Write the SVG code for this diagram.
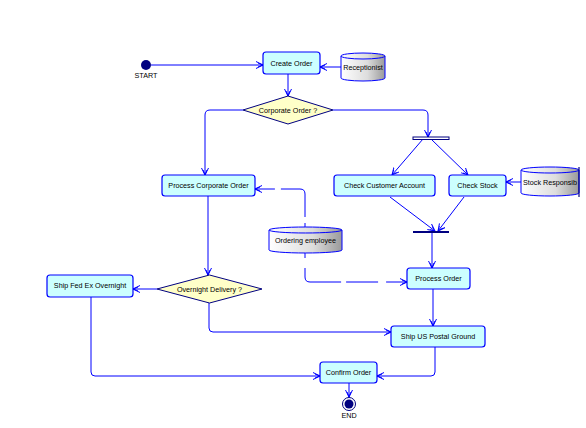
<svg xmlns="http://www.w3.org/2000/svg" width="586" height="428" viewBox="0 0 586 428">
<style>
.box{fill:#ccffff;stroke:#0000ff;stroke-width:1.2}
.dia{fill:#ffffc8;stroke:#000080;stroke-width:1}
.cyl{fill:url(#cg);stroke:#0000ff;stroke-width:1}
.t{font-family:"Liberation Sans",Arial,sans-serif;font-size:7.2px;fill:#000;text-anchor:middle}
.c{fill:none;stroke:#0000ff;stroke-width:1;marker-end:url(#ah)}
</style>
<defs>
<linearGradient id="cg" x1="0" y1="0" x2="1" y2="0">
<stop offset="0" stop-color="#ffffff"/><stop offset="0.6" stop-color="#dddddd"/><stop offset="1" stop-color="#9a9a9a"/>
</linearGradient>
<marker id="ah" markerUnits="userSpaceOnUse" markerWidth="10" markerHeight="10" refX="7" refY="4" orient="auto">
<path d="M0,0.5 L7,4 L0,7.5 M2,2 L7,4 L2,6" fill="none" stroke="#0000ff" stroke-width="1"/>
</marker>
</defs>
<rect width="586" height="428" fill="#fff"/>
<g id="connectors">
<path class="c" d="M151,65 H263"/>
<path class="c" d="M341,67 H320"/>
<path class="c" d="M288,74 V96"/>
<path class="c" d="M243,110 H210 Q205,110 205,115 V175"/>
<path class="c" d="M333,110 H423 Q428,110 428,115 V137"/>
<path class="c" d="M423,139 L392,175"/>
<path class="c" d="M431,139 L468,175"/>
<path class="c" d="M521,182 H506"/>
<path class="c" d="M390,197 L435,231"/>
<path class="c" d="M464,197 L438,231"/>
<path class="c" d="M432,233 V268"/>
<path class="c" d="M433,289 V326"/>
<path class="c" d="M435,347 V372 Q435,376 431,376 H377"/>
<path class="c" d="M91,297 V372 Q91,376 95,376 H320"/>
<path class="c" d="M349,383 V397"/>
<path class="c" d="M208,196 V275"/>
<path class="c" d="M157,289 H133"/>
<path class="c" d="M209,303 V328 Q209,332 213,332 H391"/>
<path class="c" stroke-dasharray="4 6 50 6 40" d="M305,227 V194 Q305,189 300,189 H255"/>
<path class="c" stroke-dasharray="5 10 48 5 32 8 40" d="M305,253 V277 Q305,282 310,282 H407"/>
</g>
<g id="start">
<circle cx="146" cy="65" r="5" fill="#000080"/>
<text class="t" x="146" y="78">START</text>
</g>
<g id="create-order">
<rect class="box" x="263" y="52" width="57" height="22" rx="3"/>
<text class="t" x="291.5" y="65.5">Create Order</text>
</g>
<g id="receptionist">
<path class="cyl" d="M341,56 A22,3 0 0 1 385,56 V78 A22,3 0 0 1 341,78 Z"/>
<path d="M341,56 A22,3 0 0 0 385,56" fill="none" stroke="#0000ff"/>
<text class="t" x="363" y="70">Receptionist</text>
</g>
<g id="corporate-order">
<polygon class="dia" points="288,96 333,110 288,124 243,110"/>
<text class="t" x="288" y="112.5">Corporate Order ?</text>
</g>
<g id="fork">
<rect x="413" y="137" width="36" height="2.5" fill="#fff" stroke="#000080" stroke-width="1"/>
</g>
<g id="process-corporate-order">
<rect class="box" x="162" y="175" width="93" height="21" rx="3"/>
<text class="t" x="208.5" y="188">Process Corporate Order</text>
</g>
<g id="check-customer-account">
<rect class="box" x="334" y="175" width="101" height="21" rx="3"/>
<text class="t" x="384.5" y="188">Check Customer Account</text>
</g>
<g id="check-stock">
<rect class="box" x="449" y="175" width="57" height="21" rx="3"/>
<text class="t" x="477.5" y="188">Check Stock</text>
</g>
<g id="stock-responsible">
<path class="cyl" d="M521,170 A29,3 0 0 1 579,170 V193 A29,3 0 0 1 521,193 Z"/>
<path d="M521,170 A29,3 0 0 0 579,170" fill="none" stroke="#0000ff"/>
<line x1="579" y1="167" x2="579" y2="197" stroke="#000080" stroke-width="1.2"/>
<text class="t" x="550" y="185">Stock Responsib</text>
</g>
<g id="join">
<rect x="413" y="231" width="36" height="2" fill="#000080"/>
</g>
<g id="ordering-employee">
<path class="cyl" d="M269,230 A36.5,3 0 0 1 342,230 V250 A36.5,3 0 0 1 269,250 Z"/>
<path d="M269,230 A36.5,3 0 0 0 342,230" fill="none" stroke="#0000ff"/>
<text class="t" x="305.5" y="242.5">Ordering employee</text>
</g>
<g id="process-order">
<rect class="box" x="407" y="268" width="63" height="21" rx="3"/>
<text class="t" x="438.5" y="281">Process Order</text>
</g>
<g id="overnight-delivery">
<polygon class="dia" points="209.5,275 262,289 209.5,303 157,289"/>
<text class="t" x="209.5" y="291.5">Overnight Delivery ?</text>
</g>
<g id="ship-fedex">
<rect class="box" x="47" y="275" width="86" height="22" rx="3"/>
<text class="t" x="90" y="288">Ship Fed Ex Overnight</text>
</g>
<g id="ship-us-postal">
<rect class="box" x="391" y="326" width="94" height="21" rx="3"/>
<text class="t" x="438" y="339">Ship US Postal Ground</text>
</g>
<g id="confirm-order">
<rect class="box" x="320" y="362" width="57" height="21" rx="3"/>
<text class="t" x="348.5" y="375">Confirm Order</text>
</g>
<g id="end">
<circle cx="349" cy="404" r="6.5" fill="#fff" stroke="#000080" stroke-width="1"/>
<circle cx="349" cy="404" r="4.5" fill="#000080"/>
<text class="t" x="349" y="418">END</text>
</g>
</svg>
